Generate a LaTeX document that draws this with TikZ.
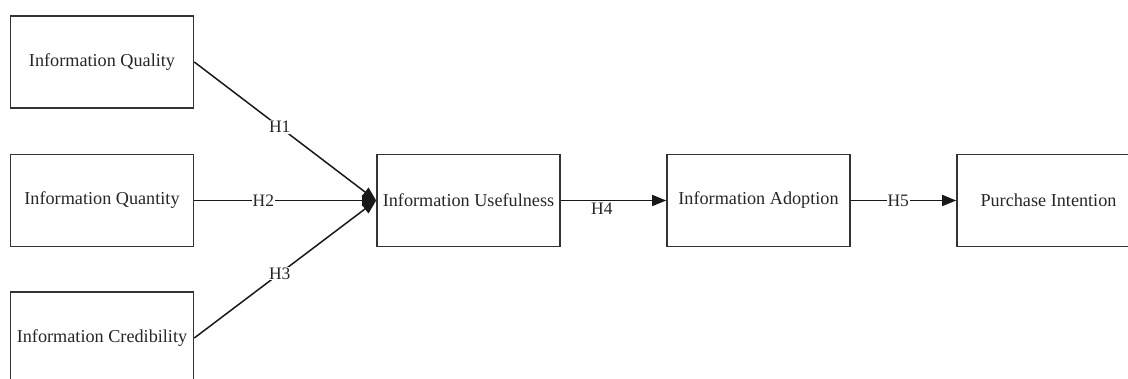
\documentclass[tikz,border=0pt]{standalone}
\usepackage{fontspec}
\setmainfont{Liberation Serif}
\usetikzlibrary{arrows.meta}
\begin{document}
\begin{tikzpicture}[x=1pt,y=-1pt,
  box/.style={draw=black!80,line width=1.6pt,minimum width=183pt,minimum height=92pt,inner sep=0pt,text=black!85,font=\fontsize{18.2}{20}\selectfont},
  link/.style={draw=black!90,line width=1.5pt,-{Triangle[length=14pt,width=11pt]}},
  lab/.style={fill=white,inner sep=1pt,text=black!85,font=\fontsize{17.5}{19}\selectfont}]
\useasboundingbox (0,0) rectangle (1128,378);
\clip (0,0) rectangle (1128,378);
\node[box] (qual) at (102,62) {Information Quality};
\node[box] (quan) at (102,200.5) {Information Quantity};
\node[box] (cred) at (102,338) {Information Credibility};
\node[box] (use) at (468.5,200.5) {Information Usefulness};
\node[box] (adop) at (758.5,200.5) {Information Adoption};
\node[box] (purc) at (1048.5,200.5) {Purchase Intention};
\draw[link] (qual.east) -- node[lab,pos=0.47] {H1} (use.west);
\draw[link] (quan.east) -- node[lab,pos=0.38] {H2} (use.west);
\draw[link] (cred.east) -- node[lab,pos=0.47] {H3} (use.west);
\draw[link] (use.east) -- node[lab,pos=0.39,yshift=-8pt] {H4} (adop.west);
\draw[link] (adop.east) -- node[lab,pos=0.45] {H5} (purc.west);
\end{tikzpicture}
\end{document}
